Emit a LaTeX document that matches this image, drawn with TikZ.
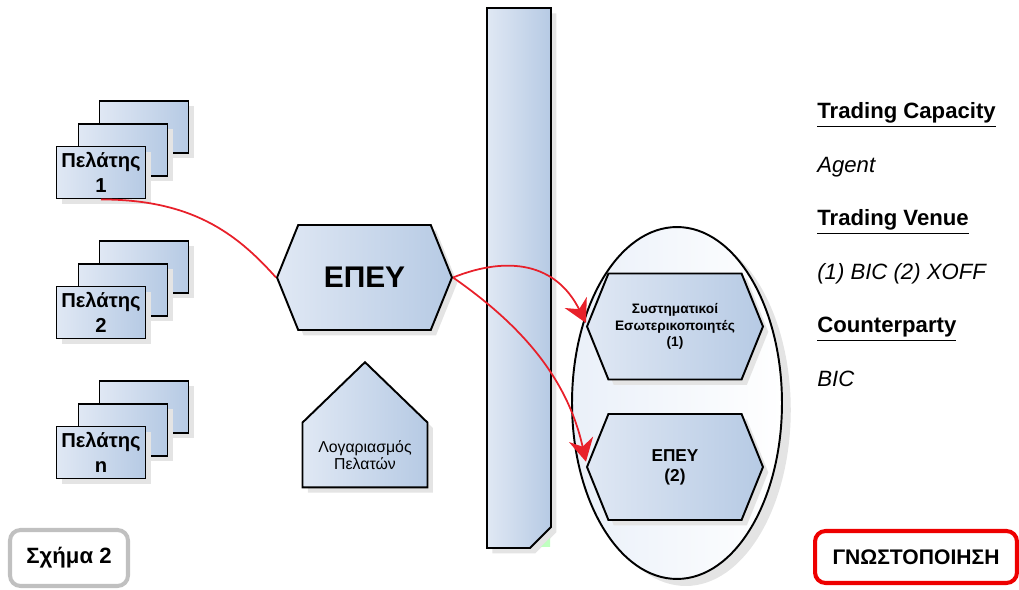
\documentclass[tikz,border=0pt]{standalone}
\usepackage{fontspec}
\setmainfont{Liberation Sans}
\usetikzlibrary{shapes.geometric,shapes.symbols,shadows,arrows.meta}

\definecolor{boxlight}{RGB}{224,232,244}
\definecolor{boxdark}{RGB}{182,202,228}
\definecolor{flowred}{RGB}{232,32,42}
\definecolor{shadowgray}{RGB}{228,228,228}
\definecolor{taggray}{RGB}{192,192,192}
\definecolor{tagred}{RGB}{238,0,0}

\begin{document}
\begin{tikzpicture}[x=0.02cm,y=-0.02cm,>=Stealth,
  bluebox/.style={draw=black,line width=1.1pt,left color=boxlight,right color=boxdark,
    drop shadow={shadow xshift=3pt,shadow yshift=-3pt,fill=shadowgray,opacity=1}},
  client/.style={bluebox,rectangle,minimum width=1.78cm,minimum height=1.04cm,inner sep=0pt,
    align=center,font=\fontsize{11.5}{14}\selectfont\bfseries},
  hexa/.style={bluebox,signal,signal to=east and west,signal pointer angle=136,
    minimum width=3.52cm,minimum height=2.12cm,inner sep=0pt,align=center},
  house/.style={bluebox,signal,signal to=north,signal pointer angle=92,
    minimum width=2.5cm,minimum height=2.2cm,inner sep=0pt,align=center,
    font=\fontsize{9}{9.8}\selectfont},
  flow/.style={draw=flowred,line width=1pt},
  tip/.style={-{Stealth[length=13pt,width=14pt]}},
  head/.style={anchor=base west,inner sep=0pt,font=\fontsize{12.6}{15}\selectfont\bfseries},
  value/.style={anchor=base west,inner sep=0pt,font=\fontsize{12.6}{15}\selectfont\itshape},
  tag/.style={rounded corners=6pt,line width=2.3pt,inner sep=0pt,
    font=\fontsize{12.6}{15}\selectfont\bfseries}]
\useasboundingbox (0,0) rectangle (1019,590);

% clients
\node[client] (c1b) at (144,127) {};
\node[client] (c1m) at (123,150) {};
\node[client] (c1) at (101,172.5) {Πελάτης\\1};
\node[client] (c2b) at (144,267) {};
\node[client] (c2m) at (123,290) {};
\node[client] (c2) at (101,312.5) {Πελάτης\\2};
\node[client] (cnb) at (144,407) {};
\node[client] (cnm) at (123,430) {};
\node[client] (cn) at (101,452.5) {Πελάτης\\n};

% firm and client account
\node[hexa,minimum width=3.5cm,minimum height=2.1cm,font=\fontsize{17}{20}\selectfont\bfseries] (epey) at (364.5,277.5) {ΕΠΕΥ};
\node[house] (acct) at (365,455) {Λογαριασμός\\Πελατών};

% venue bar
\draw[bluebox] (487,8) -- (551,8) -- (551,527) -- (530,548) -- (487,548) -- cycle;
\fill[green!25!white] (541,547) -- (550,547) -- (550,538) -- cycle;

% execution side
\node[ellipse,draw=black,line width=1.1pt,left color={rgb,255:red,234;green,240;blue,249},right color=white,
  drop shadow={shadow xshift=5pt,shadow yshift=-4pt,fill=shadowgray,opacity=1},
  minimum width=4.2cm,minimum height=7.04cm,inner sep=0pt] (exec) at (677,403) {};
\node[hexa,font=\fontsize{7.8}{9.4}\selectfont\bfseries] (si) at (675,326.5) {Συστηματικοί\\Εσωτερικοποιητές\\(1)};
\node[hexa,font=\fontsize{9.8}{11.3}\selectfont\bfseries] (epey2) at (675,467) {ΕΠΕΥ\\(2)};

% order flow
\draw[flow] (c1.south) .. controls +(90,0) and +(-40,-45) .. (epey.west);
\draw[flow,tip] (epey.east) .. controls +(55,-22) and +(-30,-60) .. ([yshift=2pt]si.west);
\draw[flow,tip] (epey.east) .. controls +(60,42) and +(-20,-90) .. ([yshift=3pt]epey2.west);

% reporting fields
\node[head] (tcap) at (817,119) {\underline{Trading Capacity}};
\node[value] (tcapv) at (817,173) {Agent};
\node[head] (tven) at (817,226) {\underline{Trading Venue}};
\node[value] (tvenv) at (817,280) {(1) BIC (2) XOFF};
\node[head] (tcp) at (817,333) {\underline{Counterparty}};
\node[value] (tcpv) at (817,387) {BIC};

% tags
\node[tag,draw=taggray,minimum width=2.36cm,minimum height=1.12cm] (fig) at (69,558) {Σχήμα 2};
\node[tag,draw=tagred,minimum width=4.04cm,minimum height=1.04cm,font=\fontsize{12}{14}\selectfont\bfseries] (notice) at (916,557) {ΓΝΩΣΤΟΠΟΙΗΣΗ};
\end{tikzpicture}
\end{document}
